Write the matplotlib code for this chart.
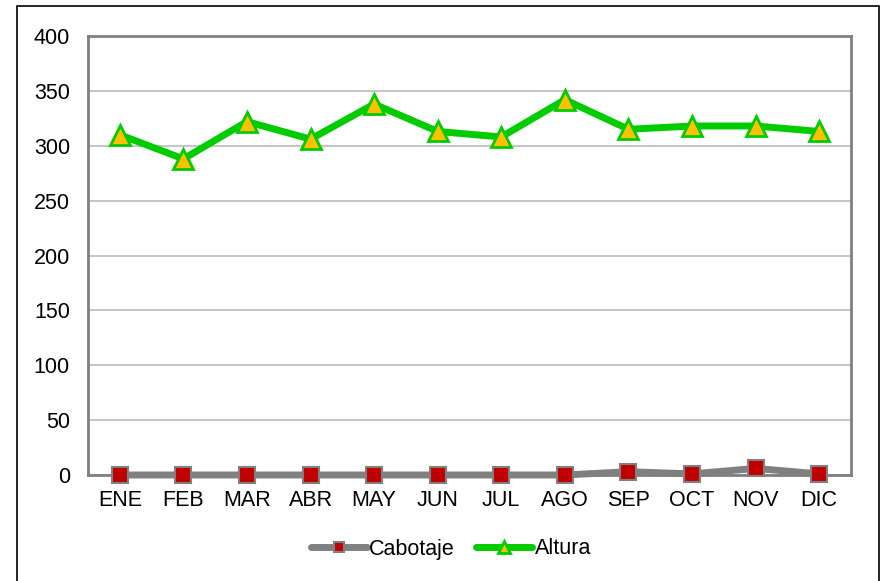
import matplotlib.pyplot as plt
from matplotlib.patches import Rectangle

plt.rcParams['font.family'] = ['Liberation Sans', 'DejaVu Sans']

meses = ['ENE', 'FEB', 'MAR', 'ABR', 'MAY', 'JUN', 'JUL', 'AGO', 'SEP', 'OCT', 'NOV', 'DIC']
cabotaje = [0, 0, 0, 0, 0, 0, 0, 0, 3, 1, 6, 1]
altura = [310, 288, 322, 306, 338, 313, 308, 342, 315, 318, 318, 313]
yticks = [0, 50, 100, 150, 200, 250, 300, 350, 400]

fig = plt.figure(figsize=(8.81, 5.81), dpi=100)
ax = fig.add_axes([88/881, 1 - 475/581, (851 - 88)/881, (475 - 36)/581])

# outer chart border (bottom edge runs off the image)
fig.patches.append(Rectangle((17/881, -0.02), (879 - 17)/881, 1.02 - 6/581,
                             transform=fig.transFigure, fill=False,
                             edgecolor='black', linewidth=1.2))

x = range(len(meses))
ax.plot(x, cabotaje, color='#808080', linewidth=5, marker='s', markersize=12,
        markerfacecolor='#C00000', markeredgecolor='#808080', markeredgewidth=1.5,
        label='Cabotaje', zorder=3, clip_on=False, solid_capstyle='round')
ax.plot(x, altura, color='#00CC00', linewidth=5, marker='^', markersize=15,
        markerfacecolor='#FFC000', markeredgecolor='#00CC00', markeredgewidth=2,
        label='Altura', zorder=3, clip_on=False, solid_capstyle='round')

ax.set_xlim(-0.5, len(meses) - 0.5)
ax.set_ylim(0, 400)
ax.set_yticks(yticks)
ax.set_xticks(list(x))
ax.set_xticklabels(meses)
ax.tick_params(length=0, labelsize=15.5)
ax.tick_params(axis='x', pad=11)
ax.tick_params(axis='y', pad=13)
ax.grid(axis='y', color='#C0C0C0', linewidth=1.3)
ax.set_axisbelow(True)
for s in ax.spines.values():
    s.set_color('#808080')
    s.set_linewidth(2)

ax.legend(loc='center', bbox_to_anchor=(451/881, 1 - 549/581),
          bbox_transform=fig.transFigure, ncol=2, frameon=False,
          fontsize=15.5, handlelength=2.6, handletextpad=0.1, columnspacing=1.0,
          markerscale=0.6)

fig.savefig('out.png', dpi=100)
